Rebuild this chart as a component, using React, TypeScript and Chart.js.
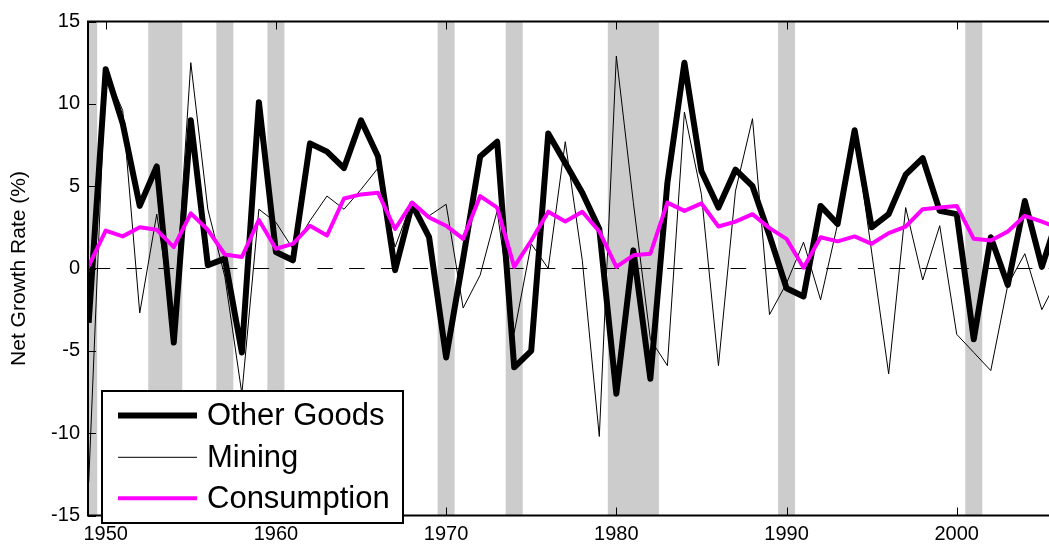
import React, { useEffect, useRef } from 'react';
import { Chart, registerables } from 'chart.js';

Chart.register(...registerables);

const years = [
  1949, 1950, 1951, 1952, 1953, 1954, 1955, 1956, 1957, 1958,
  1959, 1960, 1961, 1962, 1963, 1964, 1965, 1966, 1967, 1968,
  1969, 1970, 1971, 1972, 1973, 1974, 1975, 1976, 1977, 1978,
  1979, 1980, 1981, 1982, 1983, 1984, 1985, 1986, 1987, 1988,
  1989, 1990, 1991, 1992, 1993, 1994, 1995, 1996, 1997, 1998,
  1999, 2000, 2001, 2002, 2003, 2004, 2005, 2006,
];

const otherGoods = [
  -3.3, 12.1, 8.8, 3.8, 6.2, -4.5, 9.0, 0.2, 0.6, -5.1,
  10.1, 1.0, 0.5, 7.6, 7.1, 6.1, 9.0, 6.8, -0.1, 3.9,
  1.9, -5.4, 0.6, 6.8, 7.7, -6.0, -5.0, 8.2, 6.4, 4.6,
  2.4, -7.6, 1.1, -6.7, 5.2, 12.5, 5.9, 3.7, 6.0, 5.0,
  2.0, -1.2, -1.7, 3.8, 2.7, 8.4, 2.5, 3.3, 5.7, 6.7,
  3.5, 3.3, -4.3, 1.9, -1.0, 4.1, 0.1, 3.3,
];

const mining = [
  -13.0, 12.0, 9.6, -2.7, 3.3, -3.5, 12.5, 3.6, -0.5, -7.6,
  3.6, 2.8, 1.2, 2.9, 4.4, 3.6, 4.8, 6.1, 1.3, 4.1,
  3.2, 3.9, -2.4, -0.4, 3.5, -3.9, 1.5, 0.0, 7.7, 0.5,
  -10.2, 12.9, 4.0, -4.3, -5.9, 9.5, 4.5, -5.9, 4.7, 9.1,
  -2.8, -0.9, 1.6, -1.9, 2.7, 8.4, 1.0, -6.4, 3.7, -0.7,
  2.6, -4.0, -5.1, -6.2, -1.0, 0.9, -2.5, -0.5,
];

const consumption = [
  0.15, 2.3, 1.95, 2.5, 2.35, 1.3, 3.35, 2.35, 0.85, 0.7,
  2.95, 1.2, 1.5, 2.6, 2.0, 4.25, 4.5, 4.6, 2.4, 4.0,
  3.1, 2.6, 1.8, 4.4, 3.7, 0.1, 1.7, 3.45, 2.85, 3.45,
  2.25, 0.1, 0.8, 0.9, 4.0, 3.5, 3.95, 2.55, 2.85, 3.3,
  2.45, 1.8, 0.05, 1.9, 1.65, 1.95, 1.5, 2.15, 2.55, 3.6,
  3.7, 3.8, 1.8, 1.7, 2.25, 3.2, 2.85, 2.45,
];

const recessionStart = [1948.5, 1952.5, 1956.5, 1959.5, 1969.5, 1973.5, 1979.5, 1989.5, 2000.5];
const recessionEnd = [1949.5, 1954.5, 1957.5, 1960.5, 1970.5, 1974.5, 1982.5, 1990.5, 2001.5];

const xTicks = [1950, 1960, 1970, 1980, 1990, 2000];
const yTicks = [-15, -10, -5, 0, 5, 10, 15];

const seriesLabels = ['Other Goods', 'Mining', 'Consumption'];
const seriesColors = ['#000000', '#000000', '#ff00ff'];
const seriesWidths = [6, 1, 4];

const FONT = '"Liberation Sans", Arial, Helvetica, sans-serif';

const decorPlugin = {
  id: 'decor',
  beforeDatasetsDraw(chart: any) {
    const { ctx, chartArea: a, scales } = chart;
    const x = scales.x;
    const y = scales.y;
    ctx.save();
    ctx.beginPath();
    ctx.rect(a.left, a.top, a.right - a.left, a.bottom - a.top);
    ctx.clip();
    ctx.fillStyle = '#cccccc';
    recessionStart.forEach((s, i) => {
      const x0 = x.getPixelForValue(s);
      const x1 = x.getPixelForValue(recessionEnd[i]);
      ctx.fillRect(x0, a.top, x1 - x0, a.bottom - a.top);
    });
    const y0 = y.getPixelForValue(0);
    ctx.strokeStyle = '#000000';
    ctx.lineWidth = 1;
    ctx.setLineDash([15.5, 16.3]);
    ctx.lineDashOffset = 25.1;
    ctx.beginPath();
    ctx.moveTo(a.left, y0);
    ctx.lineTo(a.right, y0);
    ctx.stroke();
    ctx.restore();
  },
  afterDatasetsDraw(chart: any) {
    const { ctx, chartArea: a, scales } = chart;
    const x = scales.x;
    const y = scales.y;
    ctx.save();
    ctx.strokeStyle = '#000000';
    ctx.lineWidth = 1;
    const tl = 8;
    ctx.beginPath();
    xTicks.forEach((t) => {
      const px = Math.round(x.getPixelForValue(t)) + 0.5;
      ctx.moveTo(px, a.bottom);
      ctx.lineTo(px, a.bottom - tl);
      ctx.moveTo(px, a.top);
      ctx.lineTo(px, a.top + tl);
    });
    yTicks.forEach((t) => {
      const py = Math.round(y.getPixelForValue(t)) + 0.5;
      ctx.moveTo(a.left, py);
      ctx.lineTo(a.left + tl, py);
    });
    ctx.stroke();
    ctx.lineWidth = 2;
    ctx.beginPath();
    ctx.moveTo(a.right + 2, a.top);
    ctx.lineTo(a.left, a.top);
    ctx.lineTo(a.left, a.bottom);
    ctx.lineTo(a.right + 2, a.bottom);
    ctx.stroke();
    ctx.restore();
  },
  afterDraw(chart: any) {
    const { ctx } = chart;
    ctx.save();
    const bx = 102;
    const by = 391;
    const bw = 301;
    const bh = 132;
    ctx.fillStyle = '#ffffff';
    ctx.fillRect(bx, by, bw, bh);
    ctx.strokeStyle = '#000000';
    ctx.lineWidth = 2;
    ctx.strokeRect(bx, by, bw, bh);
    const rows = [415.5, 457.3, 498.3];
    ctx.font = `31px ${FONT}`;
    ctx.textBaseline = 'middle';
    ctx.textAlign = 'left';
    rows.forEach((ry, i) => {
      ctx.strokeStyle = seriesColors[i];
      ctx.lineWidth = seriesWidths[i];
      ctx.beginPath();
      ctx.moveTo(118, ry);
      ctx.lineTo(197, ry);
      ctx.stroke();
      ctx.fillStyle = '#000000';
      ctx.fillText(seriesLabels[i], 207, ry + 1);
    });
    ctx.restore();
  },
};

export default function App() {
  const canvasRef = useRef<HTMLCanvasElement | null>(null);

  useEffect(() => {
    if (!canvasRef.current) return;
    const toPts = (vals: number[]) => years.map((yr, i) => ({ x: yr, y: vals[i] }));
    const datasets = [otherGoods, mining, consumption].map((vals, i) => ({
      label: seriesLabels[i],
      data: toPts(vals),
      borderColor: seriesColors[i],
      backgroundColor: seriesColors[i],
      borderWidth: seriesWidths[i],
      pointRadius: 0,
      tension: 0,
      fill: false,
      borderJoinStyle: 'round' as const,
      order: [2, 1, 0][i],
    }));

    const chart = new Chart(canvasRef.current, {
      type: 'line',
      data: { datasets },
      options: {
        animation: false,
        responsive: true,
        maintainAspectRatio: false,
        layout: { padding: { left: 0, right: 0, top: 21.5, bottom: 0 } },
        plugins: {
          legend: { display: false },
          tooltip: { enabled: false },
        },
        scales: {
          x: {
            type: 'linear',
            min: 1948.96,
            max: 2005.42,
            grid: { display: false, drawTicks: false },
            border: { display: false },
            afterBuildTicks: (scale: any) => {
              scale.ticks = xTicks.map((v) => ({ value: v }));
            },
            afterFit: (scale: any) => {
              scale.height = 28.5;
            },
            ticks: {
              autoSkip: false,
              maxRotation: 0,
              padding: 7,
              color: '#000000',
              font: { family: FONT, size: 20 },
              callback: (v: any) => String(v),
            },
          },
          y: {
            type: 'linear',
            min: -15,
            max: 15,
            grid: { display: false, drawTicks: false },
            border: { display: false },
            afterBuildTicks: (scale: any) => {
              scale.ticks = yTicks.map((v) => ({ value: v }));
            },
            afterFit: (scale: any) => {
              scale.width = 88;
            },
            title: {
              display: true,
              text: 'Net Growth Rate (%)',
              color: '#000000',
              font: { family: FONT, size: 21 },
              padding: { top: 7, bottom: 0 },
            },
            ticks: {
              padding: 8,
              color: '#000000',
              font: { family: FONT, size: 20 },
              callback: (v: any) => String(v),
            },
          },
        },
      },
      plugins: [decorPlugin],
    });
    return () => chart.destroy();
  }, []);

  return (
    <div style={{ position: 'fixed', left: 0, top: 0, width: 1049, height: 544, background: '#ffffff' }}>
      <canvas ref={canvasRef} />
    </div>
  );
}
